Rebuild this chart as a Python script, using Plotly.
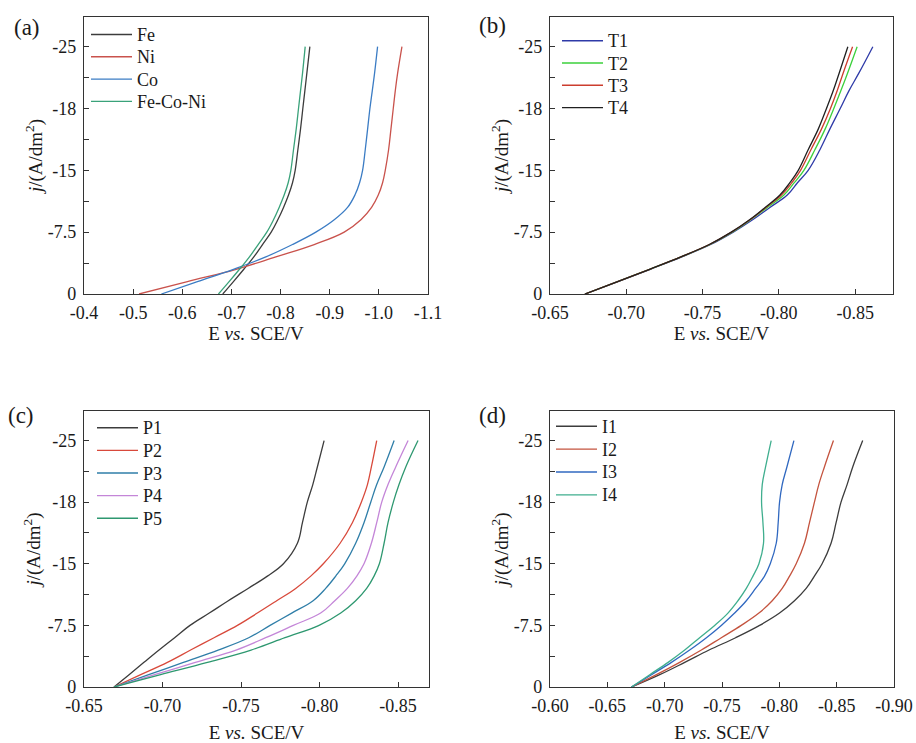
import numpy as np
import plotly.graph_objects as go

FONT = "Liberation Serif"
W, H = 916, 743

# Current density levels (A/dm^2) at which every polarization curve is tabulated
J = [0, -1.5, -3, -4.5, -6, -7.5, -9, -10.5, -12, -13.5, -15, -16, -17, -18, -20, -22, -25]

# Printed y tick labels and the evenly spaced positions they occupy on the axis
Y_TICKS = [0, -7.5, -15, -18, -25]
Y_TICK_TEXT = ["0", "-7.5", "-15", "-18", "-25"]
Y_GRID = [0, -7.5, -15, -22.5, -30]

# (a) single metals and the ternary alloy (E vs. SCE, V)
E_FE = [-0.6824, -0.7041, -0.7252, -0.7456, -0.7632, -0.7809, -0.7944, -0.8060, -0.8162,
        -0.8243, -0.8297, -0.8352, -0.8406, -0.8453, -0.8494, -0.8535, -0.8596]
E_NI = [-0.5120, -0.6105, -0.7096, -0.7904, -0.8684, -0.9295, -0.9635, -0.9852, -0.9988,
        -1.0076, -1.0130, -1.0198, -1.0246, -1.0293, -1.0334, -1.0382, -1.0470]
E_CO = [-0.5575, -0.6308, -0.7041, -0.7700, -0.8243, -0.8718, -0.9092, -0.9363, -0.9513,
        -0.9608, -0.9669, -0.9723, -0.9771, -0.9818, -0.9866, -0.9913, -0.9974]
E_FECONI = [-0.6736, -0.6953, -0.7164, -0.7367, -0.7544, -0.7720, -0.7856, -0.7971, -0.8073,
            -0.8155, -0.8209, -0.8263, -0.8318, -0.8365, -0.8406, -0.8447, -0.8501]

# (b) bath temperature series
E_T1 = [-0.6729, -0.6945, -0.7157, -0.7364, -0.7553, -0.7701, -0.7828, -0.7941, -0.8055,
        -0.8122, -0.8192, -0.8269, -0.8334, -0.8402, -0.8459, -0.8524, -0.8616]
E_T2 = [-0.6729, -0.6943, -0.7153, -0.7360, -0.7548, -0.7694, -0.7814, -0.7924, -0.8033,
        -0.8101, -0.8164, -0.8236, -0.8303, -0.8360, -0.8406, -0.8450, -0.8513]
E_T3 = [-0.6729, -0.6943, -0.7153, -0.7358, -0.7545, -0.7690, -0.7811, -0.7915, -0.8017,
        -0.8085, -0.8142, -0.8210, -0.8279, -0.8338, -0.8382, -0.8421, -0.8483]
E_T4 = [-0.6729, -0.6943, -0.7153, -0.7358, -0.7544, -0.7688, -0.7808, -0.7910, -0.8007,
        -0.8072, -0.8127, -0.8192, -0.8258, -0.8312, -0.8356, -0.8395, -0.8452]

# (c) pH series
E_P1 = [-0.6691, -0.6787, -0.6882, -0.6978, -0.7077, -0.7175, -0.7298, -0.7419, -0.7545,
        -0.7668, -0.7770, -0.7859, -0.7891, -0.7922, -0.7957, -0.7986, -0.8029]
E_P2 = [-0.6691, -0.6861, -0.7031, -0.7179, -0.7328, -0.7477, -0.7604, -0.7727, -0.7848,
        -0.7944, -0.8024, -0.8131, -0.8209, -0.8266, -0.8305, -0.8330, -0.8364]
E_P3 = [-0.6691, -0.6912, -0.7133, -0.7354, -0.7549, -0.7685, -0.7823, -0.7959, -0.8039,
        -0.8103, -0.8160, -0.8230, -0.8283, -0.8326, -0.8364, -0.8411, -0.8475]
E_P4 = [-0.6691, -0.6950, -0.7209, -0.7468, -0.7657, -0.7833, -0.8007, -0.8097, -0.8177,
        -0.8237, -0.8283, -0.8330, -0.8364, -0.8396, -0.8436, -0.8485, -0.8564]
E_P5 = [-0.6691, -0.6988, -0.7286, -0.7564, -0.7780, -0.7997, -0.8135, -0.8230, -0.8300,
        -0.8347, -0.8381, -0.8411, -0.8436, -0.8470, -0.8506, -0.8549, -0.8627]

# (d) additive series
E_I1 = [-0.6711, -0.6957, -0.7175, -0.7387, -0.7619, -0.7828, -0.8002, -0.8132, -0.8234,
        -0.8306, -0.8373, -0.8451, -0.8495, -0.8538, -0.8591, -0.8640, -0.8727]
E_I2 = [-0.6711, -0.6928, -0.7131, -0.7320, -0.7494, -0.7668, -0.7822, -0.7938, -0.8025,
        -0.8089, -0.8147, -0.8219, -0.8263, -0.8306, -0.8344, -0.8393, -0.8472]
E_I3 = [-0.6711, -0.6885, -0.7059, -0.7218, -0.7364, -0.7494, -0.7610, -0.7712, -0.7793,
        -0.7871, -0.7921, -0.7973, -0.7990, -0.8002, -0.8025, -0.8066, -0.8127]
E_I4 = [-0.6711, -0.6870, -0.7030, -0.7175, -0.7305, -0.7436, -0.7552, -0.7639, -0.7712,
        -0.7770, -0.7822, -0.7862, -0.7857, -0.7845, -0.7851, -0.7880, -0.7929]

# x tick labels per panel
XA_TICKS = [-0.4, -0.5, -0.6, -0.7, -0.8, -0.9, -1.0, -1.1]
XA_TEXT = ["-0.4", "-0.5", "-0.6", "-0.7", "-0.8", "-0.9", "-1.0", "-1.1"]
XB_TICKS = [-0.65, -0.70, -0.75, -0.80, -0.85]
XB_TEXT = ["-0.65", "-0.70", "-0.75", "-0.80", "-0.85"]
XD_TICKS = [-0.60, -0.65, -0.70, -0.75, -0.80, -0.85, -0.90]
XD_TEXT = ["-0.60", "-0.65", "-0.70", "-0.75", "-0.80", "-0.85", "-0.90"]


def to_axis(j):
    """Place current densities on the evenly spaced printed tick grid."""
    return np.interp(j, Y_TICKS[::-1], Y_GRID[::-1])


Y_POS = to_axis(J)

# Each panel: axis suffix, in-plot key box (line start px, first row px, row step px), series
panels = [
    ("", (91, 34.5, 22.3), [("Fe", E_FE, "#3c3c3c"), ("Ni", E_NI, "#c9524c"),
                            ("Co", E_CO, "#3b7cc4"), ("Fe-Co-Ni", E_FECONI, "#3aa27a")]),
    ("2", (562, 40.7, 22.3), [("T1", E_T1, "#2e3aa8"), ("T2", E_T2, "#3bd03b"),
                              ("T3", E_T3, "#cc3d2e"), ("T4", E_T4, "#202020")]),
    ("3", (97, 427.7, 22.65), [("P1", E_P1, "#3c3c3c"), ("P2", E_P2, "#d8493b"),
                               ("P3", E_P3, "#2f7ea8"), ("P4", E_P4, "#c486d8"),
                               ("P5", E_P5, "#2e9870")]),
    ("4", (556, 426.2, 22.9), [("I1", E_I1, "#3c3c3c"), ("I2", E_I2, "#c4533e"),
                               ("I3", E_I3, "#3068c0"), ("I4", E_I4, "#3fae8e")]),
]


def px_x(p):
    return p / W


def px_y(p):
    return 1 - p / H


TEXT_COLOR = "#1a1a1a"
AX_COLOR = "#333333"
KEY_LEN = 41

fig = go.Figure()
shapes, annotations = [], []
for suffix, (kx, ky, kstep), series in panels:
    for i, (name, e, color) in enumerate(series):
        fig.add_trace(go.Scatter(
            x=e, y=Y_POS, mode="lines", name=name, showlegend=False,
            line=dict(color=color, width=1.3, shape="spline", smoothing=1.1),
            xaxis="x" + suffix, yaxis="y" + suffix,
        ))
        yk = ky + i * kstep
        shapes.append(dict(type="line", xref="paper", yref="paper",
                           x0=px_x(kx), x1=px_x(kx + KEY_LEN), y0=px_y(yk), y1=px_y(yk),
                           line=dict(color=color, width=1.4)))
        annotations.append(dict(text=name, xref="paper", yref="paper",
                                x=px_x(kx + KEY_LEN + 3), y=px_y(yk + 0.5),
                                xanchor="left", yanchor="middle", showarrow=False,
                                font=dict(family=FONT, size=18, color=TEXT_COLOR)))

tick_font = dict(family=FONT, size=18, color=TEXT_COLOR)
title_font = dict(family=FONT, size=19, color=TEXT_COLOR)


def make_x(left, right, rng, ticks, text, minor_dt, anchor, standoff):
    return dict(
        domain=[px_x(left), px_x(right)], anchor=anchor, range=rng, automargin=False,
        tickmode="array", tickvals=ticks, ticktext=text,
        ticks="inside", ticklen=5, tickwidth=1.2, tickcolor=AX_COLOR, ticklabelstandoff=2,
        minor=dict(ticks="inside", ticklen=3, tickwidth=1, tickcolor=AX_COLOR,
                   tick0=ticks[0], dtick=-minor_dt),
        showline=True, linecolor=AX_COLOR, linewidth=1.3, mirror=True,
        showgrid=False, zeroline=False, tickfont=tick_font,
        title=dict(text="E <i>vs.</i> SCE/V", font=title_font, standoff=standoff),
    )


def make_y(top, bottom, anchor, standoff):
    return dict(
        domain=[px_y(bottom), px_y(top)], anchor=anchor, range=[0, -33.6], automargin=False,
        tickmode="array", tickvals=to_axis(Y_TICKS), ticktext=Y_TICK_TEXT,
        ticks="inside", ticklen=5, tickwidth=1.2, tickcolor=AX_COLOR, ticklabelstandoff=3,
        minor=dict(ticks="inside", ticklen=5, tickwidth=1, tickcolor=AX_COLOR,
                   tick0=-3.75, dtick=7.5),
        showline=True, linecolor=AX_COLOR, linewidth=1.3, mirror=True,
        showgrid=False, zeroline=False, tickfont=tick_font,
        title=dict(text="<i>j</i>/(A/dm<sup>2</sup>)", font=title_font, standoff=standoff),
    )


for label, cx, cy in [("(a)", 27, 28), ("(b)", 492, 25), ("(c)", 21, 416), ("(d)", 492, 416)]:
    annotations.append(dict(text=label, x=px_x(cx), y=px_y(cy), xref="paper", yref="paper",
                            xanchor="center", yanchor="middle", showarrow=False,
                            font=dict(family=FONT, size=23, color=TEXT_COLOR)))

fig.update_layout(
    width=W, height=H, margin=dict(l=0, r=0, t=0, b=0, autoexpand=False),
    font=dict(family=FONT, size=18, color=TEXT_COLOR),
    paper_bgcolor="white", plot_bgcolor="white", showlegend=False,
    xaxis=make_x(84, 428, [-0.4, -1.1], XA_TICKS, XA_TEXT, 0.05, "y", 3),
    yaxis=make_y(17, 294, "x", 0),
    xaxis2=make_x(550, 893, [-0.65, -0.8748], XB_TICKS, XB_TEXT, 0.025, "y2", 3),
    yaxis2=make_y(17, 294, "x2", 0),
    xaxis3=make_x(84, 429, [-0.65, -0.8697], XB_TICKS, XB_TEXT, 0.025, "y3", 16),
    yaxis3=make_y(411, 687, "x3", 2),
    xaxis4=make_x(550, 894, [-0.60, -0.90], XD_TICKS, XD_TEXT, 0.025, "y4", 16),
    yaxis4=make_y(411, 687, "x4", 0),
    shapes=shapes,
    annotations=annotations,
)

fig.write_html("out.html")
